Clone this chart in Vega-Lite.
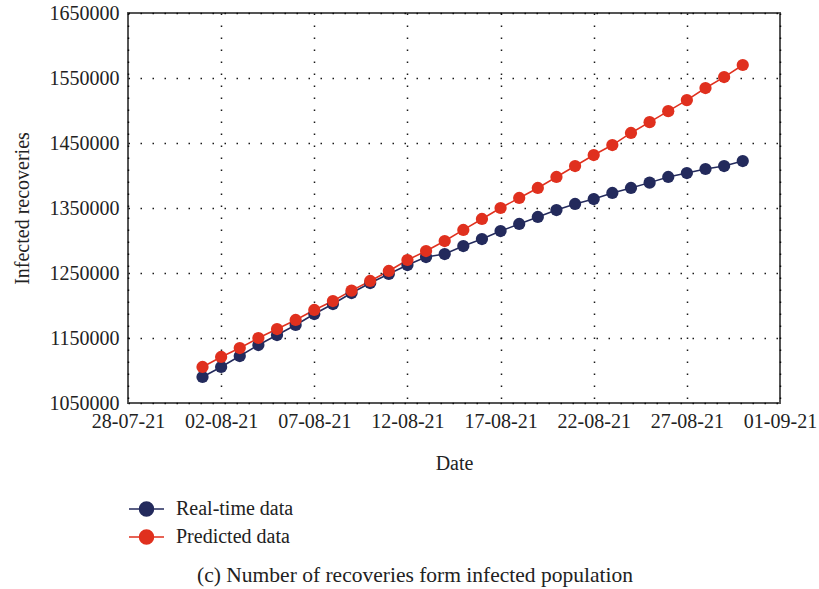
{
  "$schema": "https://vega.github.io/schema/vega-lite/v6.json",
  "width": 652,
  "height": 390,
  "autosize": {"type": "none"},
  "padding": {"left": 128, "top": 13, "right": 39, "bottom": 186},
  "background": "white",
  "config": {
    "font": "Liberation Serif",
    "view": {"stroke": "#555555", "strokeWidth": 2},
    "axis": {
      "labelFont": "Liberation Serif",
      "titleFont": "Liberation Serif",
      "labelFontSize": 20,
      "titleFontSize": 20,
      "labelColor": "#222222",
      "titleColor": "#222222",
      "titleFontWeight": "normal",
      "domain": false,
      "ticks": false,
      "grid": true,
      "gridColor": "#000000",
      "gridDash": [1.5, 10.5],
      "gridWidth": 1.5,
      "gridOpacity": 0.9
    }
  },
  "title": {
    "text": "(c) Number of recoveries form infected population",
    "orient": "bottom",
    "anchor": "middle",
    "frame": "group",
    "font": "Liberation Serif",
    "fontSize": 21.5,
    "fontWeight": "normal",
    "color": "#222222",
    "offset": 15,
    "dx": -39
  },
  "data": {
    "values": [
      {"date": "2021-08-01", "series": "Real-time data", "value": 1090000},
      {"date": "2021-08-02", "series": "Real-time data", "value": 1105400},
      {"date": "2021-08-03", "series": "Real-time data", "value": 1122300},
      {"date": "2021-08-04", "series": "Real-time data", "value": 1139200},
      {"date": "2021-08-05", "series": "Real-time data", "value": 1154600},
      {"date": "2021-08-06", "series": "Real-time data", "value": 1170000},
      {"date": "2021-08-07", "series": "Real-time data", "value": 1186900},
      {"date": "2021-08-08", "series": "Real-time data", "value": 1202300},
      {"date": "2021-08-09", "series": "Real-time data", "value": 1219200},
      {"date": "2021-08-10", "series": "Real-time data", "value": 1234600},
      {"date": "2021-08-11", "series": "Real-time data", "value": 1248500},
      {"date": "2021-08-12", "series": "Real-time data", "value": 1262300},
      {"date": "2021-08-13", "series": "Real-time data", "value": 1274600},
      {"date": "2021-08-14", "series": "Real-time data", "value": 1279200},
      {"date": "2021-08-15", "series": "Real-time data", "value": 1291500},
      {"date": "2021-08-16", "series": "Real-time data", "value": 1302300},
      {"date": "2021-08-17", "series": "Real-time data", "value": 1314600},
      {"date": "2021-08-18", "series": "Real-time data", "value": 1325400},
      {"date": "2021-08-19", "series": "Real-time data", "value": 1336200},
      {"date": "2021-08-20", "series": "Real-time data", "value": 1346900},
      {"date": "2021-08-21", "series": "Real-time data", "value": 1356200},
      {"date": "2021-08-22", "series": "Real-time data", "value": 1363800},
      {"date": "2021-08-23", "series": "Real-time data", "value": 1373100},
      {"date": "2021-08-24", "series": "Real-time data", "value": 1380800},
      {"date": "2021-08-25", "series": "Real-time data", "value": 1389000},
      {"date": "2021-08-26", "series": "Real-time data", "value": 1397700},
      {"date": "2021-08-27", "series": "Real-time data", "value": 1403800},
      {"date": "2021-08-28", "series": "Real-time data", "value": 1410000},
      {"date": "2021-08-29", "series": "Real-time data", "value": 1414600},
      {"date": "2021-08-30", "series": "Real-time data", "value": 1422300},
      {"date": "2021-08-01", "series": "Predicted data", "value": 1105400},
      {"date": "2021-08-02", "series": "Predicted data", "value": 1120800},
      {"date": "2021-08-03", "series": "Predicted data", "value": 1134600},
      {"date": "2021-08-04", "series": "Predicted data", "value": 1150000},
      {"date": "2021-08-05", "series": "Predicted data", "value": 1163800},
      {"date": "2021-08-06", "series": "Predicted data", "value": 1177700},
      {"date": "2021-08-07", "series": "Predicted data", "value": 1193100},
      {"date": "2021-08-08", "series": "Predicted data", "value": 1206900},
      {"date": "2021-08-09", "series": "Predicted data", "value": 1223000},
      {"date": "2021-08-10", "series": "Predicted data", "value": 1237700},
      {"date": "2021-08-11", "series": "Predicted data", "value": 1253100},
      {"date": "2021-08-12", "series": "Predicted data", "value": 1270000},
      {"date": "2021-08-13", "series": "Predicted data", "value": 1283800},
      {"date": "2021-08-14", "series": "Predicted data", "value": 1299200},
      {"date": "2021-08-15", "series": "Predicted data", "value": 1316200},
      {"date": "2021-08-16", "series": "Predicted data", "value": 1333100},
      {"date": "2021-08-17", "series": "Predicted data", "value": 1350000},
      {"date": "2021-08-18", "series": "Predicted data", "value": 1365400},
      {"date": "2021-08-19", "series": "Predicted data", "value": 1380800},
      {"date": "2021-08-20", "series": "Predicted data", "value": 1397700},
      {"date": "2021-08-21", "series": "Predicted data", "value": 1414600},
      {"date": "2021-08-22", "series": "Predicted data", "value": 1431500},
      {"date": "2021-08-23", "series": "Predicted data", "value": 1446900},
      {"date": "2021-08-24", "series": "Predicted data", "value": 1465400},
      {"date": "2021-08-25", "series": "Predicted data", "value": 1482000},
      {"date": "2021-08-26", "series": "Predicted data", "value": 1499000},
      {"date": "2021-08-27", "series": "Predicted data", "value": 1516000},
      {"date": "2021-08-28", "series": "Predicted data", "value": 1534600},
      {"date": "2021-08-29", "series": "Predicted data", "value": 1551500},
      {"date": "2021-08-30", "series": "Predicted data", "value": 1570000}
    ]
  },
  "encoding": {
    "x": {
      "field": "date",
      "type": "temporal",
      "title": "Date",
      "scale": {
        "type": "utc",
        "domain": [
          {"year": 2021, "month": 7, "date": 28, "utc": true},
          {"year": 2021, "month": 9, "date": 1, "utc": true}
        ]
      },
      "axis": {
        "format": "%d-%m-%y",
        "labelPadding": 8,
        "titlePadding": 22,
        "labelOverlap": false,
        "labelFlush": false,
        "values": [
          {"year": 2021, "month": 7, "date": 28, "utc": true},
          {"year": 2021, "month": 8, "date": 2, "utc": true},
          {"year": 2021, "month": 8, "date": 7, "utc": true},
          {"year": 2021, "month": 8, "date": 12, "utc": true},
          {"year": 2021, "month": 8, "date": 17, "utc": true},
          {"year": 2021, "month": 8, "date": 22, "utc": true},
          {"year": 2021, "month": 8, "date": 27, "utc": true},
          {"year": 2021, "month": 9, "date": 1, "utc": true}
        ]
      }
    },
    "y": {
      "field": "value",
      "type": "quantitative",
      "title": "Infected recoveries",
      "scale": {"domain": [1050000, 1650000], "nice": false, "zero": false},
      "axis": {
        "values": [1050000, 1150000, 1250000, 1350000, 1450000, 1550000, 1650000],
        "format": "d",
        "labelPadding": 9,
        "titlePadding": 17
      }
    },
    "color": {
      "field": "series",
      "type": "nominal",
      "sort": ["Real-time data", "Predicted data"],
      "scale": {"domain": ["Real-time data", "Predicted data"], "range": ["#232a5c", "#e0301e"]},
      "legend": {
        "title": null,
        "orient": "none",
        "legendX": 0,
        "legendY": 483,
        "direction": "vertical",
        "labelFont": "Liberation Serif",
        "labelFontSize": 20,
        "labelColor": "#222222",
        "symbolType": "M-1,0L1,0M-0.4,0A0.4,0.4,0,1,1,0.4,0A0.4,0.4,0,1,1,-0.4,0Z",
        "symbolSize": 1225,
        "symbolStrokeWidth": 1.5,
        "symbolOpacity": 1,
        "clipHeight": 26,
        "rowPadding": 2,
        "labelOffset": 11
      }
    }
  },
  "layer": [
    {
      "mark": {"type": "line", "strokeWidth": 1.5},
      "encoding": {"detail": {"field": "series"}}
    },
    {
      "mark": {"type": "point", "filled": true, "size": 150, "opacity": 1, "shape": "circle"}
    }
  ]
}
